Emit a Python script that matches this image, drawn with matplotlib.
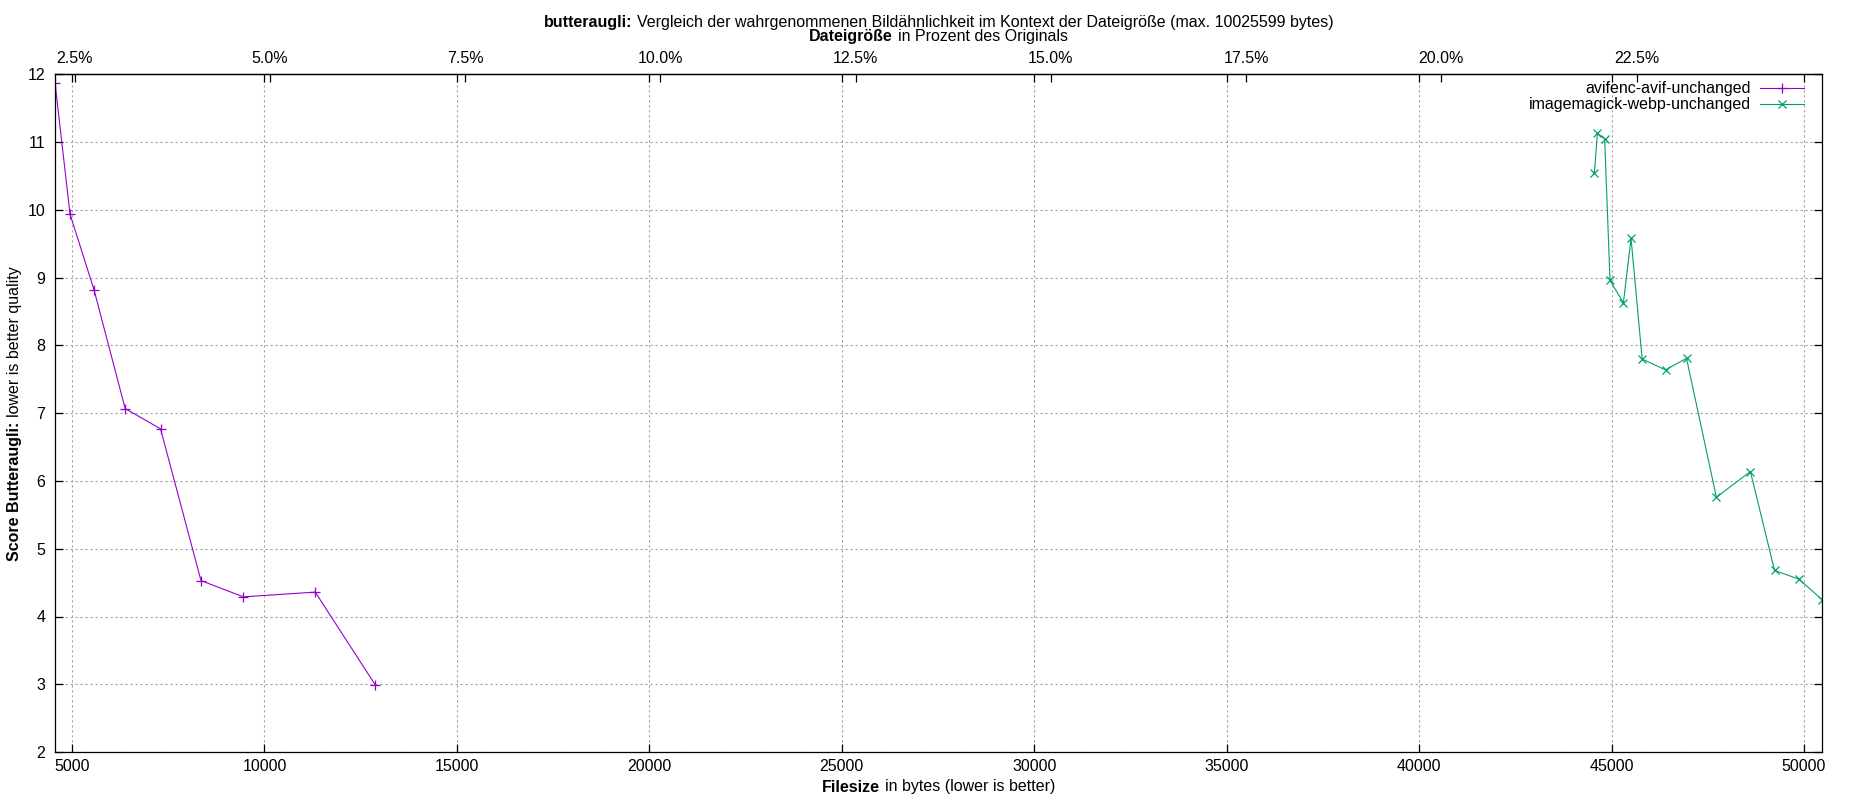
import numpy as np
import matplotlib
matplotlib.use("Agg")
import matplotlib.pyplot as plt
from matplotlib.ticker import MultipleLocator, FuncFormatter

plt.rcParams['font.family'] = ['Liberation Sans', 'DejaVu Sans']
FS = 11.5
plt.rcParams['font.size'] = FS

# filesize in bytes / butteraugli score
avif_size = [4558, 4948, 5573, 6380, 7300, 8351, 9453, 11319, 12880]
avif_score = [11.88, 9.94, 8.82, 7.07, 6.77, 4.53, 4.29, 4.36, 2.99]

webp_size = [44553, 44632, 44821, 44960, 45308, 45507, 45795, 46402, 46948,
             47724, 48608, 49235, 49871, 50468]
webp_score = [10.54, 11.13, 11.05, 8.96, 8.63, 9.58, 7.80, 7.64, 7.81,
              5.76, 6.14, 4.68, 4.55, 4.25]

labels = ["avifenc-avif-unchanged", "imagemagick-webp-unchanged"]
colors = ["#9400D3", "#009E73"]

orig_size = 202900.0   # bytes that map to 100 % on the top axis
pct_ticks = [2.5, 5.0, 7.5, 10.0, 12.5, 15.0, 17.5, 20.0, 22.5]

W, H = 1850, 800
fig = plt.figure(figsize=(W / 100, H / 100), dpi=100)
L, R, T, B = 55, 1822, 74.5, 752
ax = fig.add_axes([L / W, 1 - B / H, (R - L) / W, (B - T) / H])

ax.plot(avif_size, avif_score, color=colors[0], lw=0.8, marker='+',
        ms=7.5, mew=0.9, label=labels[0])
ax.plot(webp_size, webp_score, color=colors[1], lw=0.8, marker='x',
        ms=6, mew=0.9, label=labels[1])

allx = avif_size + webp_size
ax.set_xlim(min(allx), max(allx))
ax.set_ylim(2, 12)
ax.xaxis.set_major_locator(MultipleLocator(5000))
ax.yaxis.set_major_locator(MultipleLocator(1))
ax.grid(True, color='#a0a0a0', lw=0.8, ls=(0, (2, 2.5)))

ax.tick_params(direction='in', length=6, width=0.9, top=True, right=True,
               labeltop=False, labelsize=FS)
ax.tick_params(axis='x', pad=5)
ax.tick_params(axis='y', pad=7)
for s in ax.spines.values():
    s.set_linewidth(0.9)

sec = ax.secondary_xaxis('top', functions=(lambda b: b / orig_size * 100,
                                           lambda p: p * orig_size / 100))
sec.set_xticks(pct_ticks)
sec.xaxis.set_major_formatter(FuncFormatter(lambda v, p: "%.1f%%" % v))
sec.tick_params(direction='in', length=6, width=0.9, labelsize=FS, pad=6)
sec.spines['top'].set_linewidth(0.9)

renderer = fig.canvas.get_renderer()


def mixed(px, py, bold, rest, vertical=False):
    # bold part followed by regular part, centred on (px, py) in pixels
    rot = 90 if vertical else 0
    t1 = fig.text(0, 0, bold, weight='bold', rotation=rot, va='center',
                  ha='left' if not vertical else 'center')
    t2 = fig.text(0, 0, rest, rotation=rot, va='center',
                  ha='left' if not vertical else 'center')
    e1 = t1.get_window_extent(renderer)
    e2 = t2.get_window_extent(renderer)
    gap = 4.5
    if not vertical:
        total = e1.width + gap + e2.width
        x0 = px - total / 2
        t1.set_position((x0 / W, 1 - py / H))
        t2.set_position(((x0 + e1.width + gap) / W, 1 - py / H))
    else:
        total = e1.height + gap + e2.height
        y0 = (H - py) - total / 2
        t1.set_va('bottom')
        t2.set_va('bottom')
        t1.set_position((px / W, y0 / H))
        t2.set_position((px / W, (y0 + e1.height + gap) / H))


cx = (L + R) / 2
mixed(cx, 22, "butteraugli:",
      "Vergleich der wahrgenommenen Bildähnlichkeit im Kontext der Dateigröße (max. 10025599 bytes)")
mixed(cx, 36, "Dateigröße", "in Prozent des Originals")
mixed(cx, 787, "Filesize", "in bytes (lower is better)")
mixed(15, (T + B) / 2, "Score Butteraugli:", "lower is better quality",
      vertical=True)

ax.legend(loc='upper right', markerfirst=False, frameon=False,
          bbox_to_anchor=(1 - 18 / (R - L), 1 - 7 / (B - T)),
          handlelength=44 / (FS * 100 / 72), handletextpad=0.55,
          labelspacing=0.05, borderaxespad=0, borderpad=0, fontsize=FS)

fig.savefig("out.png", dpi=100)
